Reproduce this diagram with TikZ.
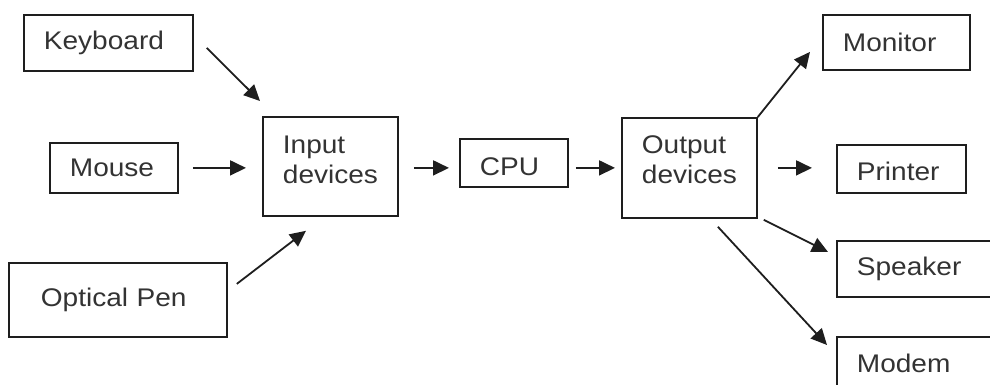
\documentclass[tikz,border=0pt]{standalone}
\usepackage{fontspec}
\setmainfont[FakeStretch=1.1]{Liberation Sans}
\usetikzlibrary{arrows.meta}
\definecolor{txt}{HTML}{333333}
\definecolor{ln}{HTML}{1E1E1E}
\tikzset{
  box/.style={draw=ln, line width=1.8pt, anchor=north west, align=left,
    inner xsep=20pt, inner ysep=0pt, text=txt,
    font=\fontsize{25.5}{30}\selectfont},
  arr/.style={draw=ln, line width=1.8pt, -{Triangle[length=16pt,width=15pt]}}
}
\begin{document}
\begin{tikzpicture}[x=1pt,y=-1pt]
\useasboundingbox (0,0) rectangle (990,385);
\clip (0,0) rectangle (990,385);
\fill[white] (0,0) rectangle (990,385);
% nodes
\node[box, text width=129pt, minimum height=56pt] (kb) at (23,14) {Keyboard};
\node[box, text width=88pt, minimum height=50pt] (ms) at (49,142) {Mouse};
\node[box, inner xsep=32pt, text width=154pt, minimum height=74pt] (op) at (8,262) {Optical Pen};
\node[box, text width=95pt, minimum height=99pt, text depth=43pt] (in) at (262,116) {Input\\devices};
\node[box, text width=68pt, minimum height=48pt, text height=26pt] (cpu) at (459,138) {CPU};
\node[box, text width=95pt, minimum height=100pt, text depth=46pt] (out) at (621,117) {Output\\devices};
\node[box, text width=107pt, minimum height=55pt] (mon) at (822,14) {Monitor};
\node[box, text width=89pt, minimum height=48pt, text height=23pt] (pr) at (836,144) {Printer};
\node[box, text width=160pt, minimum height=56pt] (sp) at (836,240) {Speaker};
\node[box, text width=160pt, minimum height=53pt] (md) at (836,336) {Modem};
% connectors
\draw[arr] ([shift={(13,5)}]kb.east) -- ([shift={(-2,-15)}]in.north west);
\draw[arr] ([shift={(14,0)}]ms.east) -- ([shift={(-16,1.5)}]in.west);
\draw[arr] ([shift={(9,-16)}]op.east) -- ([shift={(44,14)}]in.south west);
\draw[arr] ([shift={(15,1.5)}]in.east) -- ([shift={(-10,5)}]cpu.west);
\draw[arr] ([shift={(7,5)}]cpu.east) -- ([shift={(-6,0)}]out.west);
\draw[arr] (out.north east) -- ([shift={(-12,9.5)}]mon.west);
\draw[arr] ([shift={(20,0)}]out.east) -- ([shift={(-24,-1)}]pr.west);
\draw[arr] ([shift={(6,1)}]out.south east) -- ([shift={(-8,12)}]sp.north west);
\draw[arr] ([shift={(28.5,8)}]out.south) -- ([shift={(-9,9)}]md.north west);
\end{tikzpicture}
\end{document}
